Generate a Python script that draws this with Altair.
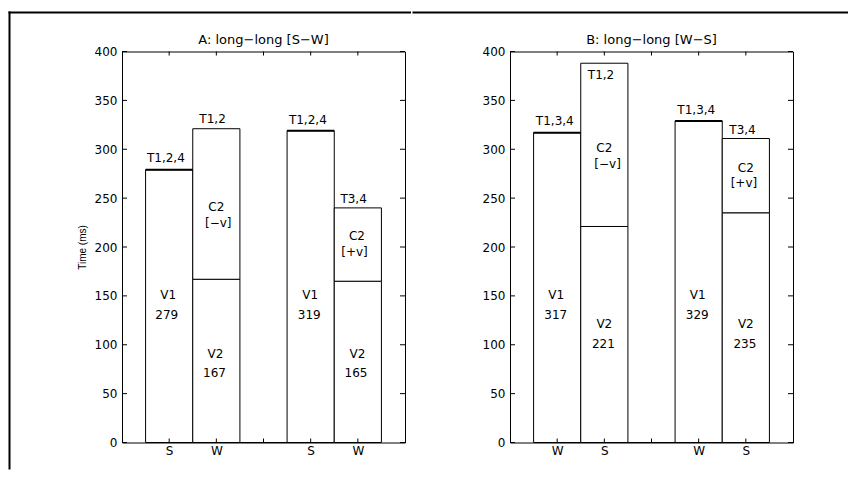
import altair as alt
import pandas as pd

# ---------------- data ----------------
# Panel A: long-long [S-W]
a_pos = [1, 2, 2, 3, 4, 5, 5]
a_lo = [0, 0, 167, 0, 0, 0, 165]
a_hi = [279, 167, 321, 0, 319, 165, 240]
a_v1_pos = [1, 4]
a_v1_top = [279, 319]
a_lab_x = [0.93, 0.98, 0.95, 1.92, 2.0, 2.04, 1.98, 1.96, 3.94, 3.99, 3.97, 4.91, 4.98, 4.93, 4.99, 4.96]
a_lab_y = [291, 151, 130, 331, 241, 225, 91, 71, 330, 151, 130, 249, 211, 195, 91, 71]
a_lab_t = ["T1,2,4", "V1", "279", "T1,2", "C2", "[−v]", "V2", "167",
           "T1,2,4", "V1", "319", "T3,4", "C2", "[+v]", "V2", "165"]
a_xlabels = ["S", "W", "", "S", "W"]
a_title = "A: long−long [S−W]"

# Panel B: long-long [W-S]
b_pos = [1, 2, 2, 3, 4, 5, 5]
b_lo = [0, 0, 221, 0, 0, 0, 235]
b_hi = [317, 221, 388, 0, 329, 235, 311]
b_v1_pos = [1, 4]
b_v1_top = [317, 329]
b_lab_x = [0.95, 0.98, 0.97, 1.93, 2.0, 2.07, 2.0, 1.98, 3.95, 3.98, 3.97, 4.93, 5.0, 4.96, 5.0, 4.98]
b_lab_y = [329, 151, 130, 376, 301, 285, 121, 100.5, 340, 151, 130, 320, 281, 265, 121, 100.5]
b_lab_t = ["T1,3,4", "V1", "317", "T1,2", "C2", "[−v]", "V2", "221",
           "T1,3,4", "V1", "329", "T3,4", "C2", "[+v]", "V2", "235"]
b_xlabels = ["W", "S", "", "W", "S"]
b_title = "B: long−long [W−S]"

y_ticks = [0, 50, 100, 150, 200, 250, 300, 350, 400]
x_ticks = [1, 2, 3, 4, 5]

W, H = 283, 391
FONT = "DejaVu Sans"
FS = 12


def panel(pos, lo, hi, v1_pos, v1_top, lx, ly, lt, xlabels, title, ytitle,
          frame_left, frame_right, vertical):
    xs = alt.Scale(domain=[0, 6], nice=False, zero=False)
    ys = alt.Scale(domain=[0, 400], nice=False)
    expr = "[''," + ",".join("'%s'" % s for s in xlabels) + "][datum.value]"
    xax = alt.Axis(values=x_ticks, labelExpr=expr, title=None,
                   ticks=False, domain=False, grid=False, labelPadding=3)
    yax = alt.Axis(values=y_ticks, title=ytitle, ticks=False,
                   domain=False, grid=False, labelPadding=5, titlePadding=7)

    bars_df = pd.DataFrame({"pos": pos, "lo": lo, "hi": hi})
    bars = alt.Chart(bars_df).transform_calculate(
        l="datum.pos - 0.5", r="datum.pos + 0.5"
    ).mark_bar(fill="white", stroke="black", strokeWidth=1).encode(
        x=alt.X("l:Q", scale=xs, axis=xax),
        x2="r:Q",
        y=alt.Y("lo:Q", scale=ys, axis=yax),
        y2="hi:Q",
    )

    top_df = pd.DataFrame({"pos": v1_pos, "top": v1_top})
    tops = alt.Chart(top_df).transform_calculate(
        l="datum.pos - 0.5", r="datum.pos + 0.5"
    ).mark_rule(color="black", strokeWidth=2).encode(
        x=alt.X("l:Q", scale=xs, axis=xax), x2="r:Q",
        y=alt.Y("top:Q", scale=ys, axis=yax),
    )

    lab_df = pd.DataFrame({"x": lx, "y": ly, "t": lt})
    labels = alt.Chart(lab_df).mark_text(
        font=FONT, fontSize=FS, color="black", baseline="middle", align="center"
    ).encode(
        x=alt.X("x:Q", scale=xs, axis=xax),
        y=alt.Y("y:Q", scale=ys, axis=yax),
        text="t:N",
    )

    yt_df = pd.DataFrame({"v": y_ticks})
    yt_left = alt.Chart(yt_df).mark_rule(color="black", strokeWidth=1).encode(
        y=alt.Y("v:Q", scale=ys, axis=yax), x=alt.value(0), x2=alt.value(5))
    yt_right = alt.Chart(yt_df).mark_rule(color="black", strokeWidth=1).encode(
        y=alt.Y("v:Q", scale=ys, axis=yax), x=alt.value(W - 5), x2=alt.value(W))
    xt_df = pd.DataFrame({"v": x_ticks})
    xt_top = alt.Chart(xt_df).mark_rule(color="black", strokeWidth=1).encode(
        x=alt.X("v:Q", scale=xs, axis=xax), y=alt.value(0), y2=alt.value(4))
    xt_bot = alt.Chart(xt_df).mark_rule(color="black", strokeWidth=1).encode(
        x=alt.X("v:Q", scale=xs, axis=xax), y=alt.value(H - 4), y2=alt.value(H))

    one = pd.DataFrame({"k": [0]})
    ttl = alt.Chart(one).mark_text(
        font=FONT, fontSize=13, color="black", baseline="alphabetic", align="center"
    ).encode(x=alt.value(W / 2), y=alt.value(-8), text=alt.value(title))
    # outer figure frame (filled thin rects)
    frame_h = alt.Chart(one).mark_rect(color="black", strokeWidth=0).encode(
        x=alt.value(frame_left), x2=alt.value(frame_right),
        y=alt.value(-40), y2=alt.value(-38))
    layers = [bars, tops, labels, yt_left, yt_right, xt_top, xt_bot, ttl, frame_h]
    if vertical:
        frame_v = alt.Chart(one).mark_rect(color="black", strokeWidth=0).encode(
            x=alt.value(frame_left), x2=alt.value(frame_left + 2),
            y=alt.value(-40), y2=alt.value(418))
        layers.append(frame_v)

    return alt.layer(*layers).properties(width=W, height=H)


pa = panel(a_pos, a_lo, a_hi, a_v1_pos, a_v1_top, a_lab_x, a_lab_y, a_lab_t,
           a_xlabels, a_title, "Time (ms)", -113.5, W + 6, True)
pb = panel(b_pos, b_lo, b_hi, b_v1_pos, b_v1_top, b_lab_x, b_lab_y, b_lab_t,
           b_xlabels, b_title, None, -97.5, 338, False)

chart = alt.hconcat(pa, pb, spacing=0).properties(
    padding={"left": 0, "top": 2.5, "right": 0, "bottom": 0},
    background="white",
).configure_view(
    stroke="black", strokeWidth=1
).configure_axis(
    labelFont=FONT, labelFontSize=12, labelColor="black",
    titleFont="Liberation Sans", titleFontSize=10, titleFontWeight="normal",
    titleColor="black",
)

chart.save("out.html", embed_options={"renderer": "svg", "actions": False})
